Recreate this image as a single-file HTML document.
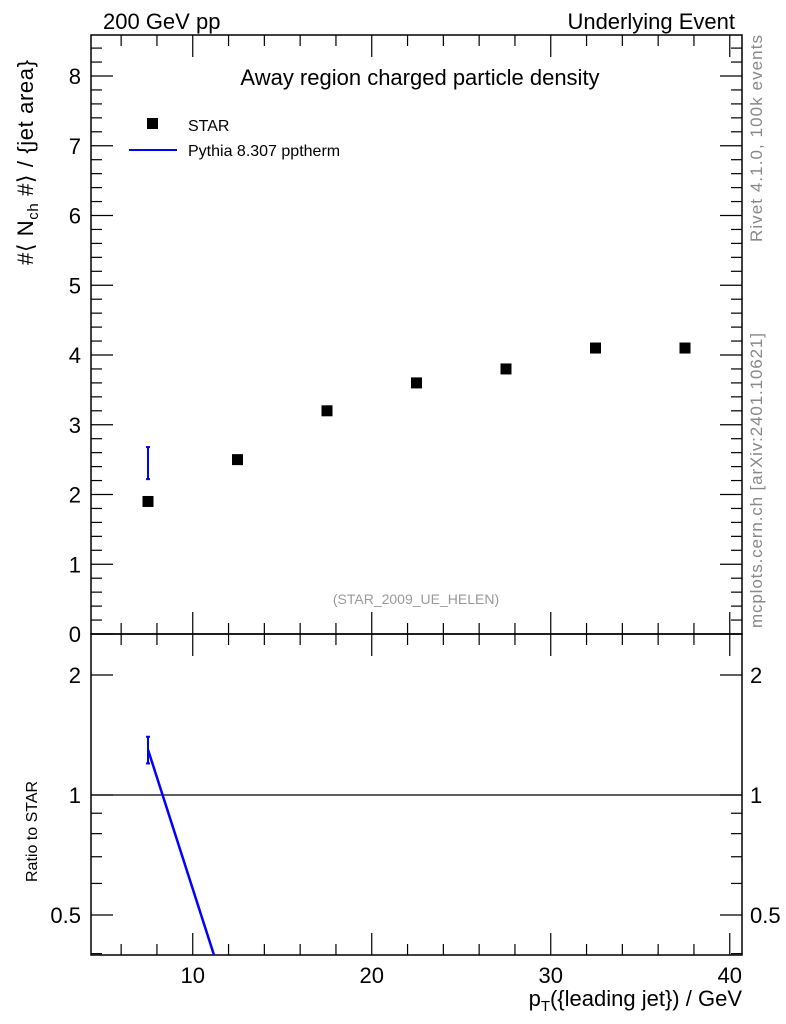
<!DOCTYPE html>
<html><head><meta charset="utf-8"><style>
body{margin:0;background:#fff}
svg{display:block;font-family:"Liberation Sans",sans-serif}
</style></head><body>
<svg id="c" width="786" height="1024" xmlns="http://www.w3.org/2000/svg"></svg>
<script>
const starX=[7.5,12.5,17.5,22.5,27.5,32.5,37.5];
const starY=[1.9,2.5,3.2,3.6,3.8,4.1,4.1];
const pyX=[7.5,12.5];
const pyY=[2.45,0];
const pyErrLo=[2.22];
const pyErrHi=[2.68];
const ratioY=[1.3,0.26];
const ratioLo=[1.2];
const ratioHi=[1.4];
const xTicks=[10,20,30,40];
const yTicks=[0,1,2,3,4,5,6,7,8];
const rTicks=[0.5,1,2];

const NS="http://www.w3.org/2000/svg";
const svg=document.getElementById('c');
const L=91,R=742,T=35,M=634,B=955;
const sx=v=>13.75+v*17.9;
const sy=v=>634-v*69.75;
const sr=v=>795-Math.log2(v)*120;
function el(t,a,name,p){const e=document.createElementNS(NS,t);for(const k in a)e.setAttribute(k,a[k]);


(p||svg).appendChild(e);return e;}
function txt(x,y,s,size,anchor,name,fill,rot){const e=el('text',{x:x,y:y,'font-size':size,'text-anchor':anchor||'start',fill:fill||'#000'},name);if(rot)e.setAttribute('transform',`rotate(-90 ${x} ${y})`);e.textContent=s;return e;}
const defs=el('defs',{},'defs');
const cp1=el('clipPath',{id:'cm'},'clip-main',defs);el('rect',{x:L,y:T,width:R-L,height:M-T},'clip-rect',cp1);
const cp2=el('clipPath',{id:'cr'},'clip-ratio',defs);el('rect',{x:L,y:M,width:R-L,height:B-M},'clip-rect',cp2);

el('rect',{x:L,y:T,width:R-L,height:M-T,fill:'none',stroke:'#000','stroke-width':1.5},'main-frame');
el('rect',{x:L,y:M,width:R-L,height:B-M,fill:'none',stroke:'#000','stroke-width':1.5},'ratio-frame');

for(let v=6;v<=40;v+=2){const x=sx(v);const maj=v%10===0;const len=maj?22:11;
 [T,M,B].forEach((y0,i)=>{
  if(i!==1){const d=i===0?1:-1;el('line',{x1:x,x2:x,y1:y0,y2:y0+d*len,stroke:'#000','stroke-width':1.2},'x-tick');}
  else{el('line',{x1:x,x2:x,y1:M,y2:M-len,stroke:'#000','stroke-width':1.2},'x-tick');el('line',{x1:x,x2:x,y1:M,y2:M+len,stroke:'#000','stroke-width':1.2},'x-tick');}
 });}
xTicks.forEach(v=>txt(sx(v),983,String(v),22,'middle','x-tick-label'));
for(let i=0;i<=43;i++){const v=i*0.2;const y=sy(v);if(y<T)break;const maj=i%5===0;const len=maj?22:11;
 el('line',{x1:L,x2:L+len,y1:y,y2:y,stroke:'#000','stroke-width':1.2},'y-tick');
 el('line',{x1:R,x2:R-len,y1:y,y2:y,stroke:'#000','stroke-width':1.2},'y-tick');}
yTicks.forEach(v=>txt(81,sy(v)+8,String(v),22,'end','y-tick-label'));
for(let v of [0.4,0.5,0.6,0.7,0.8,0.9,1,2]){const y=sr(v);const maj=rTicks.includes(v);const len=maj?22:11;
 el('line',{x1:L,x2:L+len,y1:y,y2:y,stroke:'#000','stroke-width':1.2},'ratio-tick');
 el('line',{x1:R,x2:R-len,y1:y,y2:y,stroke:'#000','stroke-width':1.2},'ratio-tick');}
rTicks.forEach(v=>{txt(81,sr(v)+8,String(v),22,'end','ratio-tick-label');txt(750,sr(v)+8,String(v),22,'start','ratio-tick-label-right');});
el('line',{x1:L,x2:R,y1:sr(1),y2:sr(1),stroke:'#000','stroke-width':1.2},'ratio-unity-line');

txt(103,29,'200 GeV pp',22,'start','energy-label');
txt(735,29,'Underlying Event',22,'end','process-label');
txt(420,85,'Away region charged particle density',22,'middle','plot-title');
txt(416,604,'(STAR_2009_UE_HELEN)',14,'middle','analysis-id','#999');
txt(742,1006,'p',22,'end','x-axis-title').innerHTML='p<tspan font-size="15" dy="5">T</tspan><tspan dy="-5">({leading jet}) / GeV</tspan>';
const yt=txt(33,265,'',22,'start','y-axis-title',null,true);yt.innerHTML='#⟨ N<tspan font-size="15" dy="5">ch</tspan><tspan dy="-5"> #⟩ / {jet area}</tspan>';
yt.setAttribute('textLength','205');
txt(37,882,'Ratio to STAR',16,'start','ratio-axis-title',null,true);
const rv=txt(762,242,'Rivet 4.1.0,  100k events',17,'start','rivet-label','#888',true);
rv.setAttribute('textLength','207');
const mc=txt(762,628,'mcplots.cern.ch [arXiv:2401.10621]',17,'start','mcplots-label','#888',true);
mc.setAttribute('textLength','295');

el('rect',{x:147,y:118,width:11,height:11,fill:'#000'},'legend-star-marker');
txt(188,131,'STAR',16,'start','legend-star-label');
el('line',{x1:129,x2:177,y1:150,y2:150,stroke:'#00f','stroke-width':2},'legend-pythia-line');
txt(188,156,'Pythia 8.307 pptherm',16,'start','legend-pythia-label');

starX.forEach((x,i)=>{el('rect',{x:sx(x)-5.5,y:sy(starY[i])-5.5,width:11,height:11,fill:'#000'},'star-point');});
const gm=el('g',{'clip-path':'url(#cm)'},'pythia-main');
pyErrLo.forEach((lo,i)=>{const x=sx(pyX[i]);
 el('line',{x1:x,x2:x,y1:sy(lo),y2:sy(pyErrHi[i]),stroke:'#00f','stroke-width':2},'pythia-error-bar',gm);
 el('line',{x1:x-2,x2:x+2,y1:sy(lo),y2:sy(lo),stroke:'#00f','stroke-width':2},'pythia-error-cap',gm);
 el('line',{x1:x-2,x2:x+2,y1:sy(pyErrHi[i]),y2:sy(pyErrHi[i]),stroke:'#00f','stroke-width':2},'pythia-error-cap',gm);});
const gr=el('g',{'clip-path':'url(#cr)'},'pythia-ratio');
el('polyline',{points:pyX.map((x,i)=>sx(x)+','+sr(ratioY[i])).join(' '),fill:'none',stroke:'#00f','stroke-width':2.5},'ratio-line',gr);
ratioLo.forEach((lo,i)=>{const x=sx(pyX[i]);
 el('line',{x1:x,x2:x,y1:sr(lo),y2:sr(ratioHi[i]),stroke:'#00f','stroke-width':2},'ratio-error-bar',gr);
 el('line',{x1:x-2,x2:x+2,y1:sr(lo),y2:sr(lo),stroke:'#00f','stroke-width':2},'ratio-error-cap',gr);
 el('line',{x1:x-2,x2:x+2,y1:sr(ratioHi[i]),y2:sr(ratioHi[i]),stroke:'#00f','stroke-width':2},'ratio-error-cap',gr);});
</script>
</body></html>
